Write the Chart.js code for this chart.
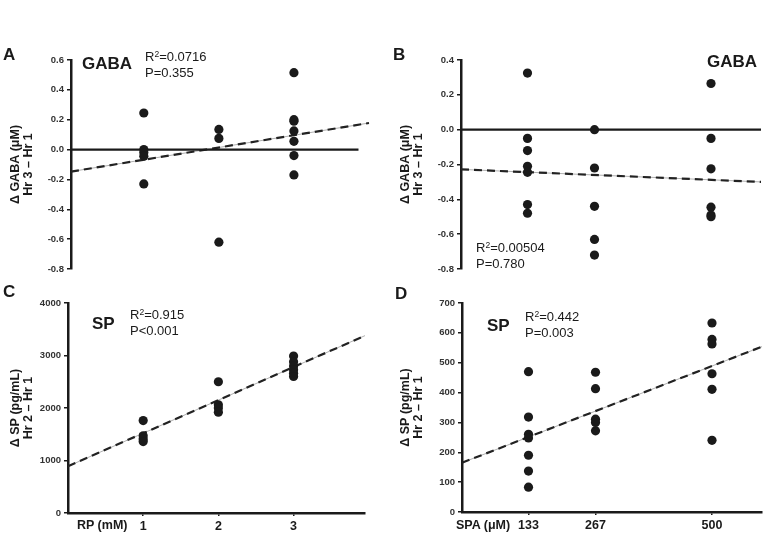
<!DOCTYPE html>
<html>
<head>
<meta charset="utf-8">
<script src="https://cdn.jsdelivr.net/npm/chart.js@4.4.1/dist/chart.umd.min.js"></script>
<style>
  body { margin: 0; background: #fff; }
  #fig { position: relative; width: 771px; height: 537px; overflow: hidden;
         font-family: "Liberation Sans", Arial, sans-serif; color: #1a1a1a; }
  canvas { position: absolute; }
  .lbl { position: absolute; line-height: 1; white-space: nowrap; }
  .big { font-weight: bold; font-size: 17px; }
  .stat { font-size: 13px; line-height: 16px; }
  .stat sup { font-size: 8.5px; vertical-align: 4px; line-height: 0; }
  .xt { font-weight: bold; font-size: 12.5px; }
</style>
</head>
<body>
<div id="fig">
  <canvas id="chartA" width="385" height="280" style="left:0;top:0"></canvas>
  <canvas id="chartB" width="381" height="280" style="left:390px;top:0"></canvas>
  <canvas id="chartC" width="385" height="257" style="left:0;top:280px"></canvas>
  <canvas id="chartD" width="381" height="257" style="left:390px;top:280px"></canvas>

  <div class="lbl big" style="left:3px;top:46px">A</div>
  <div class="lbl big" style="left:393px;top:46px">B</div>
  <div class="lbl big" style="left:3px;top:283px">C</div>
  <div class="lbl big" style="left:395px;top:285px">D</div>

  <div class="lbl big" style="left:82px;top:55px">GABA</div>
  <div class="lbl big" style="left:707px;top:53px">GABA</div>
  <div class="lbl big" style="left:92px;top:315px">SP</div>
  <div class="lbl big" style="left:487px;top:317px">SP</div>

  <div class="lbl stat" id="statA" style="left:145px;top:49px"></div>
  <div class="lbl stat" id="statB" style="left:476px;top:240px"></div>
  <div class="lbl stat" id="statC" style="left:130px;top:307px"></div>
  <div class="lbl stat" id="statD" style="left:525px;top:309px"></div>

  <div class="lbl xt" style="left:77px;top:519px">RP (mM)</div>
  <div class="lbl xt" style="left:456px;top:519px">SPA (μM)</div>
</div>
<script>
// doses on the x axis
const rpDoses = [1, 2, 3];
const spaDoses = [133, 267, 500];

// change in GABA (uM), one list per dose
const gabaByRp = [
  [0.245, 0.0, -0.02, -0.045, -0.23],
  [0.135, 0.075, -0.62],
  [0.515, 0.2, 0.19, 0.125, 0.055, -0.04, -0.17]
];
const gabaBySpa = [
  [0.325, -0.05, -0.12, -0.21, -0.245, -0.43, -0.48],
  [0.0, -0.22, -0.44, -0.63, -0.72],
  [0.265, -0.05, -0.225, -0.445, -0.49, -0.5]
];

// change in SP (pg/mL)
const spByRp = [
  [1760, 1470, 1410, 1360],
  [2500, 2060, 2000, 1920],
  [2990, 2880, 2800, 2730, 2660, 2600]
];
const spBySpa = [
  [470, 318, 260, 248, 190, 137, 83],
  [468, 413, 311, 300, 272],
  [633, 578, 563, 463, 411, 240]
];

// regression lines: [intercept, slope]
const gabaRpFit = [-0.15, 0.082];
const gabaSpaFit = [-0.228, -0.00012];
const spRpFit = [890, 630];
const spSpaFit = [165, 0.648];

// [R squared, P]
const statA = ['0.0716', 'P=0.355'];
const statB = ['0.00504', 'P=0.780'];
const statC = ['0.915', 'P<0.001'];
const statD = ['0.442', 'P=0.003'];

const ink = '#1a1a1a';

function points(doses, groups) {
  const out = [];
  groups.forEach((vals, i) => vals.forEach(v => out.push({ x: doses[i], y: v })));
  return out;
}

function fitLine(fit, x0, x1) {
  return [{ x: x0, y: fit[0] + fit[1] * x0 }, { x: x1, y: fit[0] + fit[1] * x1 }];
}

function panel(id, cfg) {
  const datasets = [
    { data: points(cfg.doses, cfg.groups), pointRadius: 4.6, pointBackgroundColor: ink,
      pointBorderWidth: 0, showLine: false },
    { data: fitLine(cfg.fit, cfg.xMin, cfg.xMax), showLine: true, pointRadius: 0,
      borderColor: '#222', borderWidth: 2.2, borderDash: [8, 5], clip: false },
    { data: fitLine(cfg.fit, cfg.xMin, cfg.xMax), showLine: true, pointRadius: 0,
      borderColor: '#9a9a9a', borderWidth: 0.8, clip: false }
  ];
  if (cfg.zeroEnd) {
    datasets.splice(1, 0, { data: [{ x: cfg.xMin, y: 0 }, { x: cfg.zeroEnd, y: 0 }],
      showLine: true, pointRadius: 0, borderColor: ink, borderWidth: 2.2 });
  }

  new Chart(document.getElementById(id), {
    type: 'scatter',
    data: { datasets },
    options: {
      responsive: false,
      animation: false,
      layout: { padding: cfg.pad },
      plugins: { legend: { display: false }, tooltip: { enabled: false } },
      scales: {
        x: {
          type: 'linear',
          display: cfg.showX,
          min: cfg.xMin,
          max: cfg.xMax,
          afterBuildTicks: s => { s.ticks = cfg.doses.map(v => ({ value: v })); },
          afterFit: s => { s.height = cfg.xH || 0; },
          border: { color: ink, width: 2.5 },
          grid: { drawOnChartArea: false, tickLength: 3, color: ink, lineWidth: 1.5 },
          ticks: { color: ink, padding: 3, font: { family: 'Liberation Sans', size: 12.5, weight: 'bold' } }
        },
        y: {
          min: cfg.yMin,
          max: cfg.yMax,
          afterFit: s => { s.width = cfg.yW; },
          border: { color: ink, width: 2.5 },
          grid: { drawOnChartArea: false, tickLength: 4, color: ink, lineWidth: 1.5 },
          ticks: {
            stepSize: cfg.yStep,
            color: '#333',
            padding: 3,
            font: { family: 'Liberation Sans', size: 9.5, weight: 'bold' },
            callback: v => cfg.dec ? (Math.abs(v) < 1e-9 ? '0.0' : v.toFixed(1)) : String(Math.round(v))
          },
          title: {
            display: true,
            text: cfg.yTitle,
            color: ink,
            font: { family: 'Liberation Sans', size: 12.5, weight: 'bold', lineHeight: 1.06 },
            padding: { top: 9, bottom: 0 }
          }
        }
      }
    }
  });
}

panel('chartA', {
  doses: rpDoses, groups: gabaByRp, fit: gabaRpFit,
  xMin: 0.03, xMax: 4, zeroEnd: 3.86, showX: false,
  yMin: -0.8, yMax: 0.6, yStep: 0.2, dec: true, yW: 71,
  yTitle: ['Δ GABA (μM)', 'Hr 3 – Hr 1'],
  pad: { left: 0, top: 60, right: 16, bottom: 11 }
});
panel('chartB', {
  doses: spaDoses, groups: gabaBySpa, fit: gabaSpaFit,
  xMin: 0, xMax: 600, zeroEnd: 600, showX: false,
  yMin: -0.8, yMax: 0.4, yStep: 0.2, dec: true, yW: 71,
  yTitle: ['Δ GABA (μM)', 'Hr 3 – Hr 1'],
  pad: { left: 0, top: 60, right: 10, bottom: 11 }
});
panel('chartC', {
  doses: rpDoses, groups: spByRp, fit: spRpFit,
  xMin: 0, xMax: 3.95, showX: true, xH: 24,
  yMin: 0, yMax: 4000, yStep: 1000, dec: false, yW: 68,
  yTitle: ['Δ SP (pg/mL)', 'Hr 2 – Hr 1'],
  pad: { left: 0, top: 23, right: 20, bottom: 0 }
});
panel('chartD', {
  doses: spaDoses, groups: spBySpa, fit: spSpaFit,
  xMin: 0, xMax: 600, showX: true, xH: 25,
  yMin: 0, yMax: 700, yStep: 100, dec: false, yW: 72,
  yTitle: ['Δ SP (pg/mL)', 'Hr 2 – Hr 1'],
  pad: { left: 0, top: 23, right: 9, bottom: 0 }
});

[['statA', statA], ['statB', statB], ['statC', statC], ['statD', statD]].forEach(([id, s]) => {
  document.getElementById(id).innerHTML = 'R<sup>2</sup>=' + s[0] + '<br>' + s[1];
});
</script>
</body>
</html>
